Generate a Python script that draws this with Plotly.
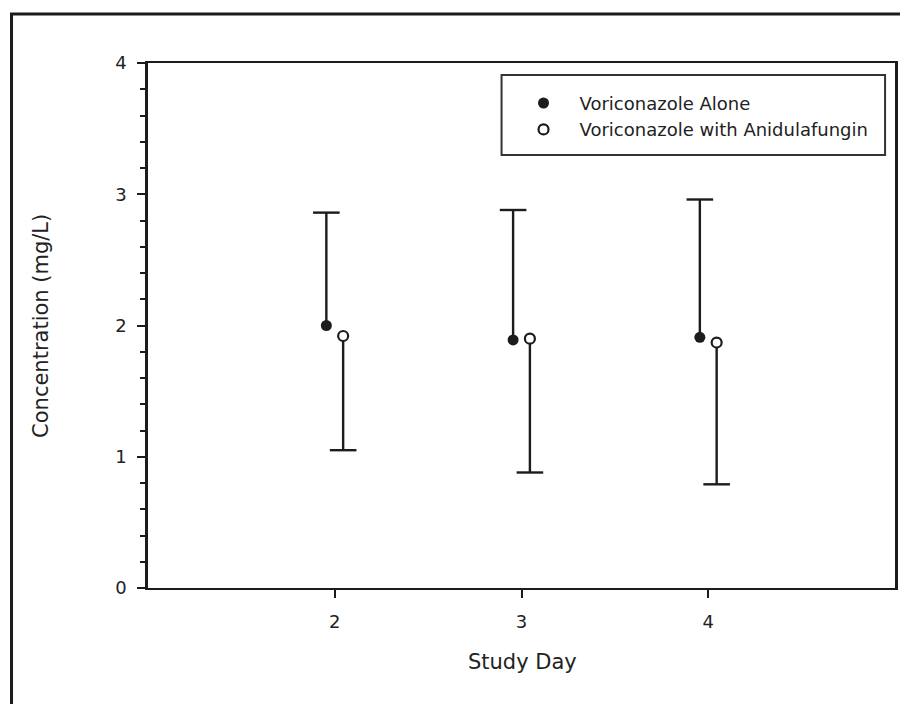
import plotly.graph_objects as go

# Study days and trough concentrations (mg/L)
days = [2, 3, 4]
alone_mean = [2.00, 1.89, 1.91]
alone_upper_sd = [0.86, 0.99, 1.05]
combo_mean = [1.92, 1.90, 1.87]
combo_lower_sd = [0.87, 1.02, 1.08]

series_alone = "Voriconazole Alone"
series_combo = "Voriconazole with Anidulafungin"
x_title = "Study Day"
y_title = "Concentration (mg/L)"

dodge = 0.045
ink = "#1c1c1c"
font_family = "DejaVu Sans"

x_alone = [d - dodge for d in days]
x_combo = [d + dodge for d in days]
alone_tip = [m + s for m, s in zip(alone_mean, alone_upper_sd)]
combo_tip = [m - s for m, s in zip(combo_mean, combo_lower_sd)]


def whisker(xs, base, tip):
    """One-sided error bar: a stem from the mean to the tip, plus a cap at the tip."""
    sx, sy = [], []
    for x, b, t in zip(xs, base, tip):
        sx += [x, x, None]
        sy += [b, t, None]
    stem = go.Scatter(x=sx, y=sy, mode="lines", showlegend=False, hoverinfo="skip",
                      line=dict(color=ink, width=2.4))
    cap = go.Scatter(x=xs, y=tip, mode="markers", showlegend=False, hoverinfo="skip",
                     marker=dict(symbol="line-ew-open", size=19, color=ink,
                                 line=dict(color=ink, width=2.4)))
    return [stem, cap]


fig = go.Figure()
for tr in whisker(x_alone, alone_mean, alone_tip) + whisker(x_combo, combo_mean, combo_tip):
    fig.add_trace(tr)

fig.add_trace(go.Scatter(
    x=x_alone, y=alone_mean, mode="markers", name=series_alone,
    marker=dict(symbol="circle", size=11, color=ink, line=dict(width=0)),
))
fig.add_trace(go.Scatter(
    x=x_combo, y=combo_mean, mode="markers", name=series_combo,
    marker=dict(symbol="circle", size=10, color="white", line=dict(width=2.2, color=ink)),
))

# outer figure frame (open at right and bottom)
fig.add_shape(type="rect", xref="paper", yref="paper",
              x0=-0.1827, x1=1.2, y0=-0.5, y1=1.0933,
              line=dict(color=ink, width=3), layer="below")
# legend box
fig.add_shape(type="rect", xref="paper", yref="paper",
              x0=0.4733, x1=0.9867, y0=0.8248, y1=0.9771,
              line=dict(color="#333333", width=2))

fig.add_annotation(text=y_title, xref="paper", yref="paper", x=-0.144, y=0.5,
                   textangle=-90, showarrow=False, xanchor="center", yanchor="middle",
                   font=dict(family=font_family, size=21, color="#222"))
fig.add_annotation(text=x_title, xref="paper", yref="paper", x=0.502, y=-0.141,
                   showarrow=False, xanchor="center", yanchor="middle",
                   font=dict(family=font_family, size=21, color="#222"))

fig.update_layout(
    width=900, height=704,
    margin=dict(l=148, r=2, t=63, b=116),
    paper_bgcolor="white", plot_bgcolor="white",
    font=dict(family=font_family, size=18, color="#222"),
    showlegend=True,
    legend=dict(x=0.4813, y=0.9585, xanchor="left", yanchor="top",
                bgcolor="rgba(0,0,0,0)", borderwidth=0, itemwidth=62,
                font=dict(family=font_family, size=18, color="#222"),
                tracegroupgap=0),
    xaxis=dict(range=[1, 5], tickvals=days, ticktext=[str(d) for d in days],
               showgrid=False, zeroline=False, showline=True, linecolor=ink, linewidth=2,
               mirror=True, ticks="outside", ticklen=8, tickwidth=2, tickcolor=ink,
               ticklabelstandoff=8),
    yaxis=dict(range=[0, 4], dtick=1, showgrid=False, zeroline=False, showline=True,
               linecolor=ink, linewidth=2.5, mirror=True, ticks="outside", ticklen=8,
               tickwidth=2, tickcolor=ink, ticklabelstandoff=7,
               minor=dict(dtick=0.2, ticks="outside", ticklen=5, tickwidth=2,
                          tickcolor=ink, showgrid=False)),
)

fig.write_html("out.html")
